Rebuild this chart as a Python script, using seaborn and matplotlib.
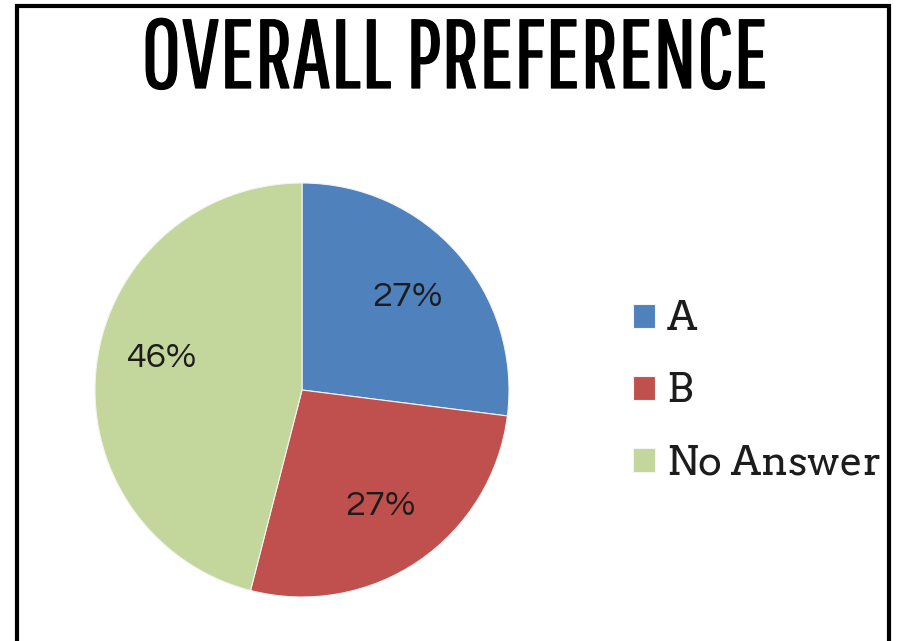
import matplotlib
matplotlib.use("Agg")
import matplotlib.pyplot as plt
import matplotlib.font_manager as fm
import matplotlib.patheffects as pe
import seaborn as sns

sns.set_theme(style="white")
plt.rcParams['font.family'] = ['DejaVu Sans']

# Survey results
categories = ["A", "B", "No Answer"]
shares = [27, 27, 46]
colors = ["#4F81BD", "#C0504D", "#C3D69B"]
title = "OVERALL PREFERENCE"

_avail = {f.name for f in fm.fontManager.ttflist}


def pick(*names):
    for n in names:
        if n in _avail:
            return n
    return names[-1]


title_font = pick("Pathway Gothic One", "Sofia Sans Extra Condensed", "DejaVu Sans")
legend_font = pick("Arvo", "Zilla Slab", "DejaVu Serif")
pct_font = pick("Questrial", "Didact Gothic", "Lato", "DejaVu Sans")

W, H = 900, 641
fig = plt.figure(figsize=(W / 100, H / 100), dpi=100)
fig.patch.set_facecolor("white")
renderer = fig.canvas.get_renderer()

# Frame around the whole chart (open at the bottom)
fig.add_artist(plt.Line2D([17 / W, 17 / W, 889 / W, 889 / W],
                          [0, 1 - 6 / H, 1 - 6 / H, 0],
                          transform=fig.transFigure, color="black", lw=3,
                          solid_joinstyle="miter"))

# Pie: centre (302, 390) px, radius 207 px
cx, cy, r = 302, 390, 207
ax = fig.add_axes([(cx - r) / W, (H - cy - r) / H, 2 * r / W, 2 * r / H])
wedges, texts, autotexts = ax.pie(
    shares, colors=colors, startangle=90, counterclock=False,
    autopct=lambda p: f"{p:.0f}%", pctdistance=0.68,
    wedgeprops=dict(linewidth=0.8, edgecolor="#f4f4f4"),
    textprops=dict(fontsize=26, color="#1c1c1c", family=pct_font))
ax.set_xlim(-1, 1)
ax.set_ylim(-1, 1)
ax.set_aspect("equal")
ax.axis("off")
# lift the large-slice label a little, as Excel places it
x0, y0 = autotexts[2].get_position()
autotexts[2].set_position((x0, y0 + 0.07))

# Headline, fitted to its width
t = fig.text(455 / W, 1 - 88 / H, title, ha="center", va="baseline",
             fontsize=60, family=title_font, color="black",
             path_effects=[pe.withStroke(linewidth=0.9, foreground="black")])
w = t.get_window_extent(renderer).width
t.set_fontsize(60 * 628 / w)

# Legend at the right
fs = 29
def make_legend(ls):
    return fig.legend(wedges, categories, loc="center left",
                      bbox_to_anchor=(633 / W, 1 - 392 / H),
                      frameon=False, borderpad=0, borderaxespad=0,
                      handlelength=0.55, handleheight=0.55,
                      handletextpad=0.28, labelspacing=ls,
                      prop=dict(family=legend_font, size=fs),
                      labelcolor="#1c1c1c")

leg = make_legend(0.8)
fig.canvas.draw()
ys = [tx.get_window_extent(renderer).y0 for tx in leg.get_texts()]
step = abs(ys[0] - ys[1])
new_ls = 0.8 + (72 - step) / (fs * 100 / 72)
leg.remove()
leg = make_legend(new_ls)

fig.savefig("out.png", dpi=100, facecolor="white")
